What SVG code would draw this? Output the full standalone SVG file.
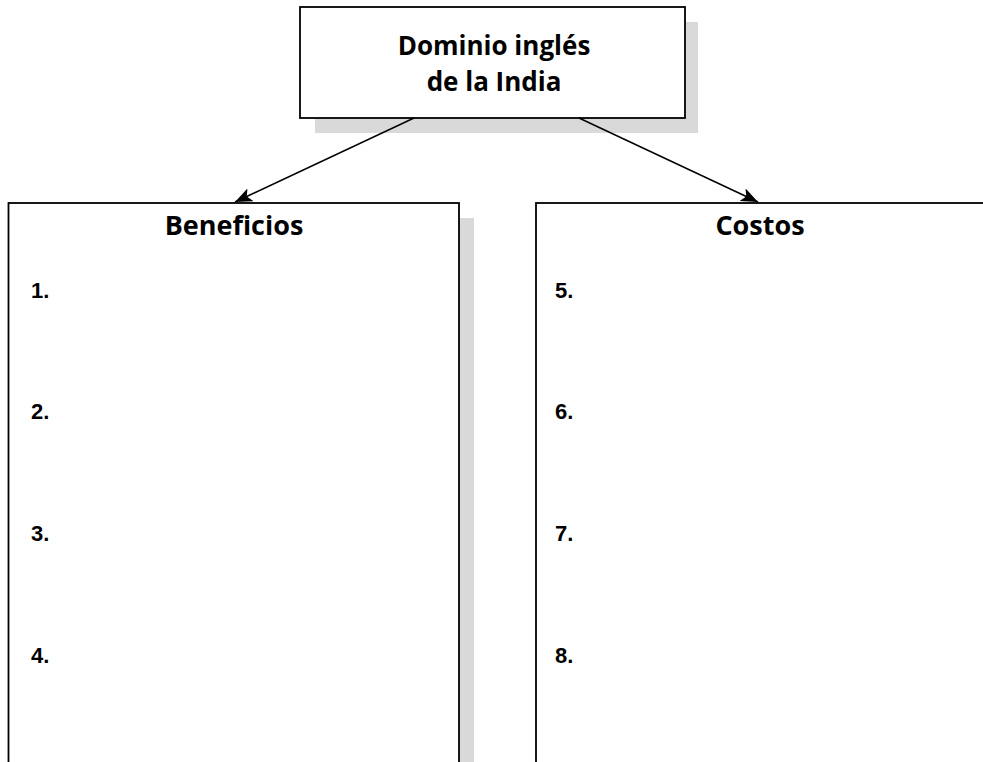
<svg xmlns="http://www.w3.org/2000/svg" width="983" height="762" viewBox="0 0 983 762">
<style>
.box{fill:#ffffff;stroke:#000000;stroke-width:1.8}
.shadow{fill:#d9d9d9;stroke:none}
.title{font-family:"Open Sans","Liberation Sans",sans-serif;font-weight:bold;font-size:26px;fill:#000000;text-anchor:middle}
.head{font-family:"Open Sans","Liberation Sans",sans-serif;font-weight:bold;font-size:27px;fill:#000000;text-anchor:middle}
.num{font-family:"Liberation Sans",Arial,sans-serif;font-weight:bold;font-size:22px;fill:#000000}
.conn{stroke:#000000;stroke-width:1.5;fill:none}
</style>
<defs>
<marker id="arrow" markerUnits="userSpaceOnUse" markerWidth="20" markerHeight="16" refX="17" refY="7" orient="auto">
<path d="M0,0 L17,7 L0,14 L4,7 Z" fill="#000000"/>
</marker>
</defs>
<rect width="983" height="762" fill="#ffffff"/>
<g id="node-dominio">
<rect class="shadow" x="315" y="22" width="383" height="111"/>
<rect class="box" x="300" y="7" width="385" height="111"/>
<text class="title" x="494" y="55">Dominio inglés</text>
<text class="title" x="494" y="91">de la India</text>
</g>
<g id="node-beneficios">
<rect class="shadow" x="459" y="218" width="15" height="560"/>
<rect class="box" x="8.5" y="203" width="450.5" height="580"/>
<text class="head" x="234" y="235">Beneficios</text>
<text class="num" x="31" y="298">1.</text>
<text class="num" x="31" y="419">2.</text>
<text class="num" x="31" y="541">3.</text>
<text class="num" x="31" y="663">4.</text>
</g>
<g id="node-costos">
<rect class="box" x="536" y="203" width="460" height="580"/>
<text class="head" x="760" y="235">Costos</text>
<text class="num" x="555" y="298">5.</text>
<text class="num" x="555" y="419">6.</text>
<text class="num" x="555" y="541">7.</text>
<text class="num" x="555" y="663">8.</text>
</g>
<g id="connectors">
<line class="conn" x1="414" y1="118" x2="235" y2="202" marker-end="url(#arrow)"/>
<line class="conn" x1="579" y1="118" x2="758" y2="202" marker-end="url(#arrow)"/>
</g>
</svg>
